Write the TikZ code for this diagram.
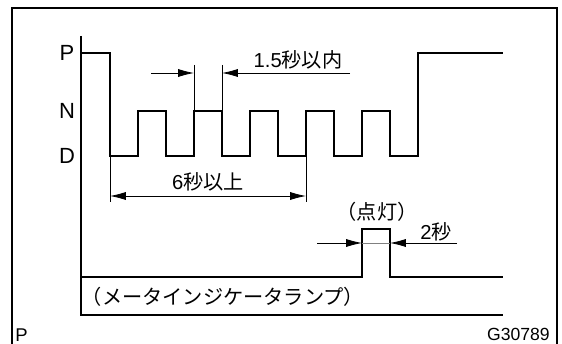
\documentclass[tikz,border=0pt]{standalone}
\usepackage{fontspec}
\setmainfont{Liberation Sans}
\newfontfamily\jp{Noto Sans CJK JP}
\usepackage{tikz}
\usetikzlibrary{arrows, arrows.meta}
\tikzset{>={Latex[length=9pt,width=4.6pt]}}
\tikzset{wave/.style={line width=1.4pt},
  dimline/.style={line width=0.45pt},
  lbl/.style={inner sep=0pt, font=\fontsize{11.5}{13}\selectfont}}

\begin{document}
\begin{tikzpicture}[x=0.02cm, y=-0.02cm]
\useasboundingbox (0,0) rectangle (562,344);
% frame
\draw[line width=0.9pt] (12,344) -- (12,8) -- (557,8) -- (557,344);
\draw[line width=0.6pt] (81,36) -- (81,315) -- (503,315);
% shift position
\draw[wave] (81,53) -- (110,53) -- (110,156)
  foreach \i in {0,...,4}{ -- ({138+56*\i},156) -- ({138+56*\i},111) -- ({166+56*\i},111) -- ({166+56*\i},156) }
  -- (418,156) -- (418,53) -- (503,53);
\node[lbl, font=\fontsize{12.5}{14}\selectfont] (lblP) at (67,53) {P};
\node[lbl, font=\fontsize{12.5}{14}\selectfont] (lblN) at (67,111) {N};
\node[lbl, font=\fontsize{12.5}{14}\selectfont] (lblD) at (67,156) {D};
% 1.5 sec
\draw[dimline] (194,65) -- (194,111);
\draw[dimline] (222,65) -- (222,111);
\coordinate (inA) at (194,73);
\coordinate (inB) at (222,73);
\coordinate (inL) at (151,73);
\coordinate (inR) at (350,73);
\draw[dimline, ->] (inL) -- (inA);
\draw[dimline, ->] (inR) -- (inB);
\node[lbl, anchor=south] (within) at (298,70) {1.5{\jp 秒以内}};
% 6 sec
\draw[dimline] (110,156) -- (110,202);
\draw[dimline] (306,156) -- (306,202);
\coordinate (ovA) at (110,196);
\coordinate (ovB) at (306,196);
\draw[dimline, <->] (ovA) -- (ovB);
\node[lbl] (over) at (208,182) {6{\jp 秒以上}};
% indicator lamp
\draw[wave] (81,277) -- (362,277) -- (362,229) -- (390,229) -- (390,277) -- (503,277);
\node[lbl] (lamp) at (223,297) {\jp （メータインジケータランプ）};
\node[lbl] (lit) at (377,212) {\jp （点灯）};
\coordinate (onA) at (362,243);
\coordinate (onB) at (390,243);
\coordinate (onL) at (317,243);
\coordinate (onR) at (457,243);
\draw[dimline, ->] (onL) -- (onA);
\draw[dimline, ->] (onR) -- (onB);
\draw[dimline, gray] (onA) -- (onB);
\node[lbl] (two) at (436,232) {2{\jp 秒}};
% corners
\node[lbl, anchor=west, font=\fontsize{10.5}{12}\selectfont] (pmark) at (15,335) {P};
\node[lbl, anchor=east, font=\fontsize{10}{12}\selectfont] (code) at (550,334) {G30789};
\end{tikzpicture}
\end{document}
